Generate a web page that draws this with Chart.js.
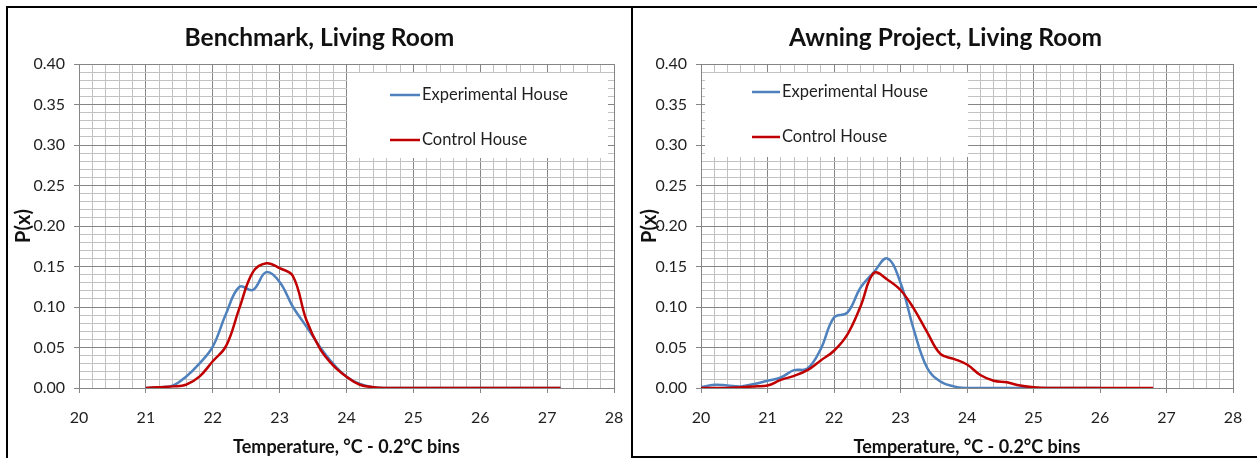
<!DOCTYPE html>
<html>
<head>
<meta charset="utf-8">
<script src="https://cdn.jsdelivr.net/npm/chart.js@4"></script>
<style>
  body { margin: 0; background: #fff; width: 1257px; height: 458px; overflow: hidden; position: relative; }
  canvas { position: absolute; }
  .ln { position: absolute; background: #000; }
</style>
</head>
<body>
<canvas id="benchmark" width="623" height="449" style="left:8px;top:9px"></canvas>
<canvas id="awning" width="623" height="449" style="left:634px;top:9px"></canvas>
<div class="ln" style="left:6px;top:6px;width:1251px;height:2px"></div>
<div class="ln" style="left:6px;top:6px;width:2px;height:452px"></div>
<div class="ln" style="left:631px;top:6px;width:2px;height:452px"></div>
<div class="ln" style="left:631px;top:456px;width:626px;height:2px"></div>
<script>
// Benchmark, living room (0.2°C bins)
const benchTemps = [21.0, 21.2, 21.4, 21.6, 21.8, 22.0, 22.2, 22.4, 22.6, 22.8, 23.0, 23.2, 23.4, 23.6, 23.8, 24.0,
  24.2, 24.4, 24.6, 24.8, 25.0, 25.2, 25.4, 25.6, 25.8, 26.0, 26.2, 26.4, 26.6, 26.8, 27.0, 27.2];
const benchExperimental = [0, 0.001, 0.003, 0.014, 0.030, 0.051, 0.092, 0.125, 0.121, 0.143, 0.131, 0.100, 0.076, 0.051, 0.030, 0.014,
  0.005, 0.001, 0, 0, 0, 0, 0, 0, 0, 0, 0, 0, 0, 0, 0, 0];
const benchControl = [0, 0.001, 0.002, 0.004, 0.014, 0.033, 0.052, 0.099, 0.143, 0.154, 0.148, 0.138, 0.084, 0.049, 0.028, 0.014,
  0.004, 0.001, 0, 0, 0, 0, 0, 0, 0, 0, 0, 0, 0, 0, 0, 0];

// Awning project, living room
const awningExpTemps = [20.0, 20.2, 20.4, 20.6, 20.8, 21.0, 21.2, 21.4, 21.6, 21.8, 22.0, 22.2, 22.4, 22.6, 22.8, 23.0,
  23.2, 23.4, 23.6, 23.8, 24.0, 24.2, 24.4, 24.6, 24.8, 25.0, 25.2, 25.4, 25.6, 25.8, 26.0];
const awningExperimental = [0.001, 0.004, 0.003, 0.002, 0.005, 0.009, 0.013, 0.022, 0.024, 0.048, 0.087, 0.093, 0.124, 0.143, 0.160, 0.130,
  0.072, 0.025, 0.008, 0.002, 0, 0, 0, 0, 0, 0, 0, 0, 0, 0, 0];
const awningCtrlTemps = [20.0, 20.2, 20.4, 20.6, 20.8, 21.0, 21.2, 21.4, 21.6, 21.8, 22.0, 22.2, 22.4, 22.6, 22.8, 23.0,
  23.2, 23.4, 23.6, 23.8, 24.0, 24.2, 24.4, 24.6, 24.8, 25.0, 25.2, 25.4, 25.6, 25.8, 26.0, 26.2, 26.4, 26.6, 26.8];
const awningControl = [0, 0, 0, 0.001, 0.002, 0.003, 0.010, 0.015, 0.022, 0.034, 0.046, 0.066, 0.101, 0.142, 0.134, 0.121,
  0.098, 0.069, 0.042, 0.036, 0.029, 0.016, 0.009, 0.007, 0.003, 0.001, 0, 0, 0, 0, 0, 0, 0, 0, 0];

const seriesNames = ["Experimental House", "Control House"];
const xTitle = "Temperature, °C - 0.2°C bins";
const yTitle = "P(x)";

const BLUE = "#4F81BD", RED = "#C00000";
const MAJOR = "#858585", MINOR = "#c2c2c2";
const FONT = "Lato, 'Open Sans', sans-serif";

const isMajorX = v => Math.abs(v - Math.round(v)) < 1e-6;
const isMajorY = v => Math.abs(v / 0.05 - Math.round(v / 0.05)) < 1e-6;

// white legend box drawn over the grid, inside the plot
const boxLegend = {
  id: "boxLegend",
  beforeDatasetsDraw(chart, args, o) {
    const { ctx, chartArea } = chart;
    const left = chartArea.left + o.left, top = chartArea.top + o.top;
    ctx.save();
    ctx.fillStyle = "#fff";
    ctx.fillRect(left, top, o.width, o.height);
    ctx.font = "16.5px " + FONT;
    ctx.textBaseline = "middle";
    [1, 0].forEach((i, row) => {
      const ds = chart.data.datasets[i];
      const yy = top + o.rows[row];
      const lx = left + o.lineX;
      ctx.strokeStyle = ds.borderColor;
      ctx.lineWidth = 2.5;
      ctx.beginPath();
      ctx.moveTo(lx, yy);
      ctx.lineTo(lx + o.lineLen, yy);
      ctx.stroke();
      ctx.fillStyle = "#1f1f1f";
      ctx.fillText(ds.label, lx + o.lineLen + 2, yy);
    });
    ctx.restore();
  }
};

function makeChart(id, title, exp, ctrl, yWidth, padRight, legend) {
  return new Chart(document.getElementById(id), {
    type: "line",
    data: {
      datasets: [
        { label: seriesNames[1], data: ctrl, borderColor: RED, order: 0 },
        { label: seriesNames[0], data: exp, borderColor: BLUE, order: 1 }
      ]
    },
    options: {
      responsive: false,
      animation: false,
      parsing: false,
      layout: { padding: 0 },
      elements: {
        point: { radius: 0 },
        line: { borderWidth: 2.5, tension: 0.4, fill: false }
      },
      plugins: {
        legend: { display: false },
        tooltip: { enabled: false },
        title: {
          display: true,
          text: title,
          color: "#111",
          font: { family: FONT, size: 24.5, weight: "bold", lineHeight: 1.2 },
          padding: { top: 14.3, bottom: 11.3 }
        },
        boxLegend: legend
      },
      scales: {
        x: {
          type: "linear",
          min: 20, max: 28,
          grid: {
            color: c => isMajorX(c.tick.value) ? MAJOR : MINOR,
            tickColor: c => isMajorX(c.tick.value) ? MAJOR : "rgba(0,0,0,0)",
            tickLength: 5
          },
          border: { color: MAJOR },
          ticks: {
            stepSize: 0.2,
            autoSkip: false,
            maxRotation: 0, minRotation: 0,
            maxTicksLimit: 100,
            padding: 15,
            color: "#1f1f1f",
            font: { family: FONT, size: 16 },
            callback: v => isMajorX(v) ? String(Math.round(v)) : ""
          },
          title: {
            display: true,
            text: xTitle,
            color: "#111",
            font: { family: FONT, size: 18, weight: "bold", lineHeight: 1 },
            padding: { top: 0, bottom: 2 }
          },
          afterFit: s => { s.height = 70; s.paddingLeft = 0; s.paddingRight = 0; }
        },
        y: {
          min: 0, max: 0.4,
          grid: {
            color: c => isMajorY(c.tick.value) ? MAJOR : MINOR,
            tickColor: c => isMajorY(c.tick.value) ? MAJOR : "rgba(0,0,0,0)",
            tickLength: 5
          },
          border: { color: MAJOR },
          ticks: {
            stepSize: 0.01,
            autoSkip: false,
            maxTicksLimit: 100,
            padding: 9,
            color: "#1f1f1f",
            font: { family: FONT, size: 16 },
            callback: v => isMajorY(v) ? v.toFixed(2) : ""
          },
          title: {
            display: true,
            text: yTitle,
            color: "#111",
            font: { family: FONT, size: 20, weight: "bold", lineHeight: 1 },
            padding: { top: 6, bottom: 0 }
          },
          afterFit: s => { s.width = yWidth; }
        },
        // empty right-hand strip so the title stays centred on the whole panel
        pad: {
          type: "linear",
          position: "right",
          display: true,
          grid: { display: false },
          border: { display: false },
          ticks: { display: false },
          afterFit: s => { s.width = padRight; }
        }
      }
    },
    plugins: [boxLegend]
  });
}

const pts = (xs, ys) => xs.map((t, i) => ({ x: t, y: ys[i] }));

makeChart("benchmark", "Benchmark, Living Room",
  pts(benchTemps, benchExperimental), pts(benchTemps, benchControl),
  71, 17,
  { left: 268, top: 9, width: 261, height: 85, lineX: 43, lineLen: 30, rows: [22, 67] });

makeChart("awning", "Awning Project, Living Room",
  pts(awningExpTemps, awningExperimental), pts(awningCtrlTemps, awningControl),
  67, 24,
  { left: 4, top: 9, width: 263, height: 84, lineX: 47, lineLen: 28, rows: [19, 64] });
</script>
</body>
</html>
